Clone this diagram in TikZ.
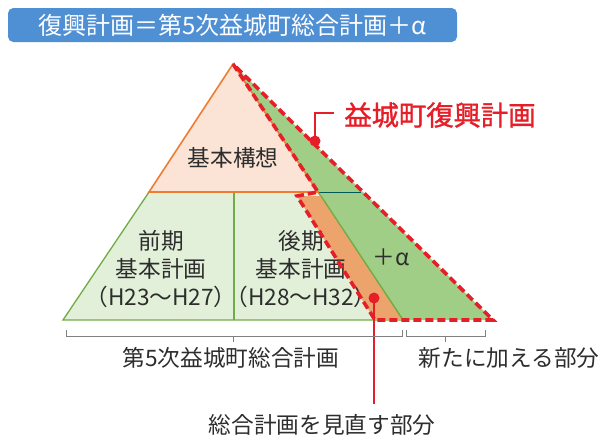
\documentclass[tikz,border=0pt]{standalone}
\usepackage{fontspec}
\setmainfont{Noto Sans CJK JP}
\usetikzlibrary{arrows,shapes,positioning}

\definecolor{titleblue}{RGB}{79,143,212}
\definecolor{peach}{RGB}{251,228,213}
\definecolor{edgeorange}{RGB}{237,125,49}
\definecolor{lowgreen}{RGB}{226,240,217}
\definecolor{edgegreen}{RGB}{112,173,71}
\definecolor{plusgreen}{RGB}{160,206,134}
\definecolor{revorange}{RGB}{236,163,108}
\definecolor{planred}{RGB}{230,30,40}
\definecolor{txtgray}{RGB}{45,45,45}

\begin{document}
\begin{tikzpicture}[x=0.75pt,y=-0.75pt,
  lbl/.style={font=\fontsize{17}{21}\selectfont,text=txtgray,align=center,inner sep=0pt},
  redline/.style={planred,line width=2.7pt,dash pattern=on 6pt off 3pt},
  callout/.style={planred,line width=1pt},
  brace/.style={gray,line width=0.6pt}]
\useasboundingbox (0,0) rectangle (606,440);
%\draw[help lines,step=50] (0,0) grid (606,440);
\coordinate (apex) at (233,64);
\coordinate (tl) at (149,192);
\coordinate (tr) at (318,192);
\coordinate (bl) at (63,320);
\coordinate (br) at (403,320);
\coordinate (tip) at (493,320);
\coordinate (mt) at (234,192);
\coordinate (mb) at (234,320);
\coordinate (hr) at (361,192);
\coordinate (otl) at (297,196);
\coordinate (otr) at (321,196);
\coordinate (obl) at (375,320);

\node[fill=titleblue,rounded corners=4pt,minimum width=336.75pt,minimum height=25.5pt,
  text=white,font=\fontsize{18}{20}\selectfont,inner sep=0pt] (title) at (232.5,25)
  {復興計画＝第5次益城町総合計画＋α};

\fill[plusgreen] (apex) -- (tip) -- (br) -- cycle;
\filldraw[fill=lowgreen,draw=edgegreen,line width=1pt] (tl) -- (tr) -- (br) -- (bl) -- cycle;
\draw[edgegreen,line width=1pt] (mt) -- (mb);
\fill[revorange] (otl) -- (otr) -- (br) -- (obl) -- cycle;
\draw[edgegreen,line width=1pt] (otr) -- (br);
\draw[teal!70!black,line width=0.5pt] (tr) -- (hr);
\filldraw[fill=peach,draw=edgeorange,line width=1.2pt] (apex) -- (tr) -- (tl) -- cycle;

\node[lbl] (kousou) at (233,158) {基本構想};
\node[lbl] (zenki) at (161,269) {前期\\基本計画\\（H23～H27）};
\node[lbl] (kouki) at (301,269) {後期\\基本計画\\（H28～H32）};
\node[lbl] (alpha) at (391,257) {＋α};

\draw[redline,line join=miter] (apex) -- (tr) -- (otl) -- (obl) -- (tip) -- cycle;

% callouts
\node[font=\fontsize{20.5}{22}\selectfont,text=planred,inner sep=0pt,anchor=west] (fukkou) at (344,115) {\addfontfeature{FakeBold=1.2}益城町復興計画};
\coordinate (dot1) at (315,141);
\coordinate (c1) at (316,113);
\coordinate (c1e) at (334,113);
\fill[planred] (dot1) circle (5.5);
\draw[callout] (dot1) -- (dot1 |- c1) -- (c1e);

\node[lbl] (minaosu) at (322,425) {総合計画を見直す部分};
\coordinate (dot2) at (374,298);
\coordinate (c2) at (374,404);
\fill[planred] (dot2) circle (5.5);
\draw[callout] (dot2) -- (c2);

% braces
\draw[brace] (66,330) -- (66,336) -- (402,336) -- (402,330);
\draw[brace] (233,336) -- (233,342);
\draw[brace] (406,330) -- (406,336) -- (485,336) -- (485,330);
\draw[brace] (445,336) -- (445,342);
\node[lbl] (daigoji) at (231,358) {第5次益城町総合計画};
\node[lbl] (arata) at (509,358) {新たに加える部分};
\end{tikzpicture}
\end{document}
